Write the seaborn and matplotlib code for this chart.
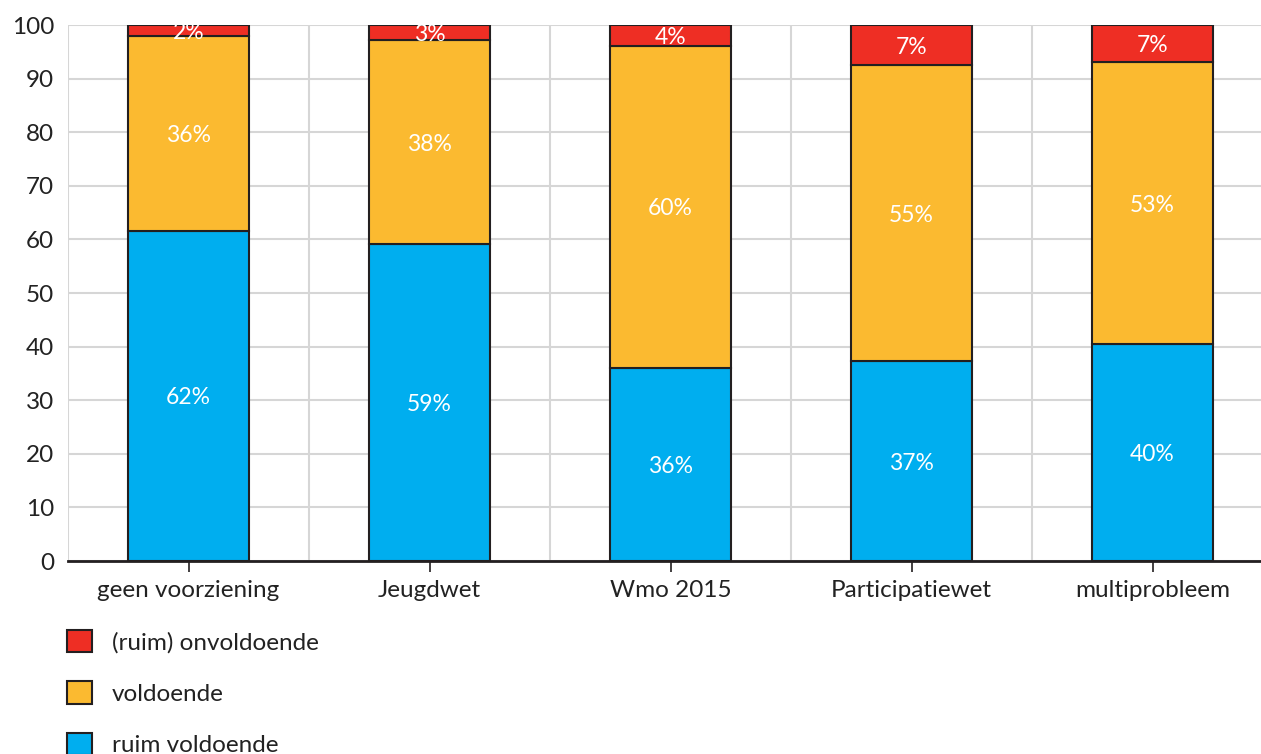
import numpy as np
import pandas as pd
import seaborn as sns
from matplotlib import pyplot as plt
from matplotlib.patches import Patch

categorieen = ['geen voorziening', 'Jeugdwet', 'Wmo 2015', 'Participatiewet', 'multiprobleem']
ruim_voldoende = [61.6, 59.1, 36.0, 37.3, 40.4]
voldoende = [36.3, 38.1, 60.1, 55.2, 52.7]
onvoldoende = [2.1, 2.8, 3.9, 7.5, 6.9]
labels_ruim = ['62%', '59%', '36%', '37%', '40%']
labels_vold = ['36%', '38%', '60%', '55%', '53%']
labels_onv = ['2%', '3%', '4%', '7%', '7%']

kleur_blauw = '#00aeef'
kleur_geel = '#fbba30'
kleur_rood = '#ee2e24'
rand = '#231f20'
tekst = '#222222'

sns.set_style('white')
plt.rcParams['font.family'] = ['Lato', 'DejaVu Sans']

fig = plt.figure(figsize=(12.61, 7.54), dpi=100)
ax = fig.add_axes([68 / 1261, 1 - 561 / 754, 5 * 241 / 1261, 536 / 754])

df = pd.DataFrame({'cat': categorieen, 'blauw': ruim_voldoende, 'geel': voldoende, 'rood': onvoldoende})
onder_geel = df['blauw']
onder_rood = df['blauw'] + df['geel']

# gestapelde staven
sns.barplot(data=df, x='cat', y='blauw', color=kleur_blauw, width=0.5, edgecolor=rand,
            linewidth=1.5, saturation=1, ax=ax, zorder=3)
sns.barplot(data=df, x='cat', y='geel', bottom=onder_geel, color=kleur_geel, width=0.5,
            edgecolor=rand, linewidth=1.5, saturation=1, ax=ax, zorder=3)
sns.barplot(data=df, x='cat', y='rood', bottom=onder_rood, color=kleur_rood, width=0.5,
            edgecolor=rand, linewidth=1.5, saturation=1, ax=ax, zorder=3)

for i in range(len(categorieen)):
    ax.text(i, ruim_voldoende[i] / 2, labels_ruim[i], color='white', ha='center',
            va='center_baseline', fontsize=16.5, zorder=4)
    ax.text(i, ruim_voldoende[i] + voldoende[i] / 2, labels_vold[i], color='white', ha='center',
            va='center_baseline', fontsize=16.5, zorder=4)
    ax.text(i, onder_rood[i] + onvoldoende[i] / 2, labels_onv[i], color='white', ha='center',
            va='center_baseline', fontsize=16.5, zorder=4)

ax.set_xlim(-0.5, 4.5)
ax.set_ylim(0, 100)
ax.set_yticks(np.arange(0, 101, 10))
ax.set_xticks(np.arange(-0.5, 5, 1), minor=True)
ax.grid(axis='y', color='#d6d6d6', linewidth=1.5, zorder=0)
ax.grid(axis='x', which='minor', color='#d6d6d6', linewidth=1.5, zorder=0)
ax.grid(axis='x', which='major', visible=False)
ax.set_axisbelow(True)
for kant in ['top', 'right', 'left']:
    ax.spines[kant].set_visible(False)
ax.spines['bottom'].set_color(rand)
ax.spines['bottom'].set_linewidth(2)
ax.spines['bottom'].set_zorder(5)
ax.tick_params(axis='x', which='major', length=8, width=1.2, color=rand, labelsize=17.5,
               labelcolor=tekst, pad=6, bottom=True)
ax.tick_params(axis='x', which='minor', length=0)
ax.tick_params(axis='y', length=0, labelsize=17.5, labelcolor=tekst, pad=10)
ax.set_xlabel('')
ax.set_ylabel('')

handles = [Patch(facecolor=kleur_rood, edgecolor=rand, linewidth=1.5, label='(ruim) onvoldoende'),
           Patch(facecolor=kleur_geel, edgecolor=rand, linewidth=1.5, label='voldoende'),
           Patch(facecolor=kleur_blauw, edgecolor=rand, linewidth=1.5, label='ruim voldoende')]
leg = fig.legend(handles=handles, loc='upper left', bbox_to_anchor=(57 / 1261, 1 - 620 / 754),
                 frameon=False, fontsize=17.5, labelspacing=1.15, handlelength=1.05,
                 handleheight=1.05, handletextpad=0.8, borderaxespad=0)
for t in leg.get_texts():
    t.set_color(tekst)

fig.savefig('out.png', dpi=100)
